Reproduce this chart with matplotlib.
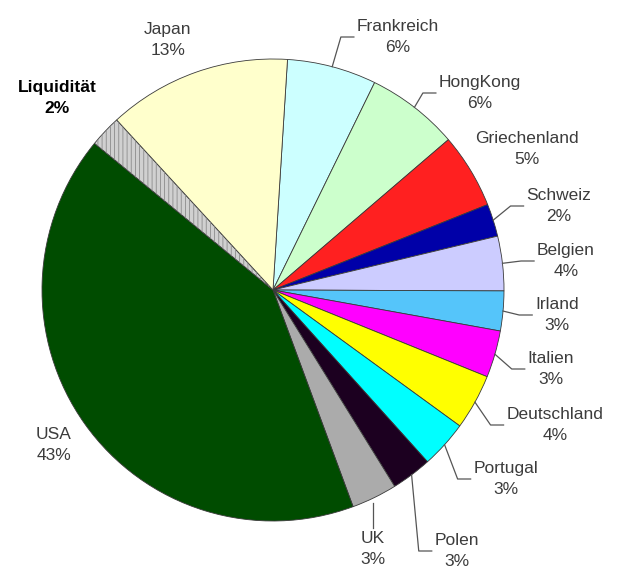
import matplotlib
matplotlib.use("Agg")
import matplotlib.pyplot as plt
from matplotlib.patches import Wedge
import numpy as np

# ---- data ----
countries = ['Frankreich', 'HongKong', 'Griechenland', 'Schweiz', 'Belgien',
             'Irland', 'Italien', 'Deutschland', 'Portugal', 'Polen', 'UK',
             'USA', 'Liquidität', 'Japan']
shares = [6.25, 6.47, 5.25, 2.28, 3.81, 2.78, 3.28, 3.89, 3.33, 2.83, 3.19,
          41.58, 2.22, 12.83]
pct_labels = ['6%', '6%', '5%', '2%', '4%', '3%', '3%', '4%', '3%', '3%', '3%',
              '43%', '2%', '13%']
colors = ['#CCFFFF', '#CCFFCC', '#FF2020', '#0000A8', '#CCCCFF', '#55C5FA',
          '#FF00FF', '#FFFF00', '#00FFFF', '#1C0020', '#ABABAB', '#004C00',
          '#D0D0D0', '#FFFFCC']

# ---- layout (pixel positions in the 621x571 image, y measured from top) ----
W, H = 621, 571
CX, CY, R = 273, 290, 231
label_pos = {  # centre x, y of first line
    'Frankreich': (398, 25), 'HongKong': (480, 81), 'Griechenland': (527, 137),
    'Schweiz': (559, 194), 'Belgien': (566, 249), 'Irland': (557, 303),
    'Italien': (551, 357), 'Deutschland': (555, 413), 'Portugal': (506, 467),
    'Polen': (457, 539), 'UK': (373, 537), 'USA': (54, 433),
    'Liquidität': (57, 86), 'Japan': (168, 28)}
leader = {'Frankreich': 'side', 'HongKong': 'side', 'Schweiz': 'side',
          'Belgien': 'side', 'Irland': 'side', 'Italien': 'side',
          'Deutschland': 'side', 'Portugal': 'side', 'Polen': 'side',
          'UK': 'below'}
LINE_GAP = 21
TXT = '#3C3C3C'

plt.rcParams['font.family'] = ['Liberation Sans', 'DejaVu Sans']
plt.rcParams['hatch.linewidth'] = 0.6

fig = plt.figure(figsize=(W / 100, H / 100), dpi=100)
ax = fig.add_axes([0, 0, 1, 1])

wedges, _ = ax.pie(shares, colors=colors, startangle=86.4, counterclock=False,
                   center=(CX, H - CY), radius=R,
                   wedgeprops=dict(edgecolor='#3A3A3A', linewidth=0.6))
ax.set_xlim(0, W)
ax.set_ylim(0, H)
ax.set_aspect('equal')
ax.axis('off')

# hatched overlay for Liquidität
wl = wedges[countries.index('Liquidität')]
ax.add_patch(Wedge(wl.center, wl.r, wl.theta1, wl.theta2, facecolor='none',
                   edgecolor='#8C8C8C', hatch='||||', linewidth=0))

texts = {}
for name, pct in zip(countries, pct_labels):
    x, y = label_pos[name]
    bold = name == 'Liquidität'
    kw = dict(ha='center', va='baseline', fontsize=12.5,
              color='black' if bold else TXT,
              fontweight='bold' if bold else 'normal', clip_on=False)
    t1 = ax.text(x, H - (y + 6), name, **kw)
    t2 = ax.text(x, H - (y + 6 + LINE_GAP), pct, **kw)
    texts[name] = (t1, t2)

fig.canvas.draw()
renderer = fig.canvas.get_renderer()
inv = ax.transData.inverted()
for name, w in zip(countries, wedges):
    if name not in leader:
        continue
    mid = np.deg2rad((w.theta1 + w.theta2) / 2)
    sx = w.center[0] + w.r * np.cos(mid)
    sy = w.center[1] + w.r * np.sin(mid)
    b1 = texts[name][0].get_window_extent(renderer)
    b2 = texts[name][1].get_window_extent(renderer)
    (x0, y0) = inv.transform((min(b1.x0, b2.x0), min(b1.y0, b2.y0)))
    (x1, y1) = inv.transform((max(b1.x1, b2.x1), max(b1.y1, b2.y1)))
    if leader[name] == 'side':
        ex, ey = x0 - 3, (y0 + y1) / 2
        xs = [sx, ex - 13, ex]
        ys = [sy, ey, ey]
    else:
        cx = (x0 + x1) / 2
        xs = [cx, cx]
        ys = [sy - 5, y1 + 3]
    ax.plot(xs, ys, color='#555555', linewidth=0.9, clip_on=False)

fig.savefig('out.png', dpi=100)
